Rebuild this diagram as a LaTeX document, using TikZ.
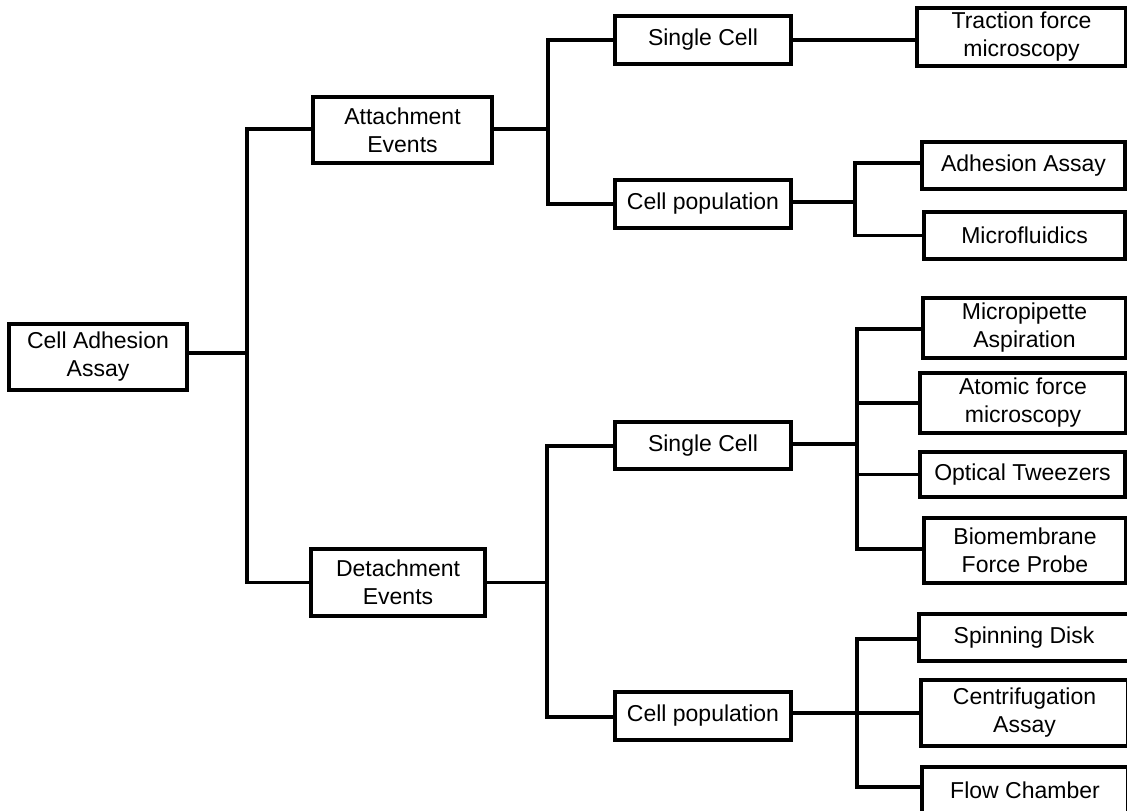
\documentclass[tikz,border=0pt]{standalone}
\usepackage{fontspec}
\setmainfont{Liberation Sans}
\begin{document}
\begin{tikzpicture}[x=1pt,y=-1pt,
  box/.style={draw=black, line width=3.2pt, align=center, inner sep=0pt, outer sep=0pt,
    font=\fontsize{23}{28}\selectfont},
  conn/.style={line width=3.4pt, line join=miter}]
\useasboundingbox (0,0) rectangle (1127,811);
% level 0
\node[box, minimum width=178, minimum height=66] (root) at (98,357) {Cell Adhesion\\Assay};
% level 1
\node[box, minimum width=179, minimum height=66] (att) at (402.5,130) {Attachment\\Events};
\node[box, minimum width=174, minimum height=67] (det) at (398,582.5) {Detachment\\Events};
% level 2
\node[box, minimum width=176, minimum height=48] (sc1) at (703,40) {Single Cell};
\node[box, minimum width=176, minimum height=48] (cp1) at (703,204) {Cell population};
\node[box, minimum width=176, minimum height=47] (sc2) at (703,445.5) {Single Cell};
\node[box, minimum width=176, minimum height=48] (cp2) at (703,716) {Cell population};
% level 3
\node[box, minimum width=209, minimum height=58] (tfm) at (1021.5,37) {Traction force\\microscopy};
\node[box, minimum width=203, minimum height=47] (ada) at (1023.5,165.5) {Adhesion Assay};
\node[box, minimum width=201, minimum height=47] (mf) at (1024.5,235.5) {Microfluidics};
\node[box, minimum width=203, minimum height=60] (mpa) at (1024.5,328) {Micropipette\\Aspiration};
\node[box, minimum width=206, minimum height=60] (afm) at (1023,403) {Atomic force\\microscopy};
\node[box, minimum width=205, minimum height=45] (ot) at (1022.5,474.5) {Optical Tweezers};
\node[box, minimum width=202, minimum height=65] (bfp) at (1025,550.5) {Biomembrane\\Force Probe};
\node[box, minimum width=210, minimum height=47] (sd) at (1024,637.5) {Spinning Disk};
\node[box, minimum width=207, minimum height=66] (cen) at (1024.5,713) {Centrifugation\\Assay};
\node[box, minimum width=206, minimum height=46] (fc) at (1025,790) {Flow Chamber};
% junction coordinates
\coordinate (j0) at (247,353);
\coordinate (j1) at (548,129);
\coordinate (j2) at (547,582.5);
\coordinate (j3) at (855,202);
\coordinate (j4) at (857,444);
\coordinate (j5) at (857,713);
% connectors level 0 -> 1
\draw[conn] (root.east |- j0) -- (j0);
\draw[conn] (att.west |- 0,129) -| (j0) |- (det.west);
% level 1 -> 2
\draw[conn] (att.east |- j1) -- (j1);
\draw[conn] (sc1.west) -| (j1) |- (cp1.west);
\draw[conn] (det.east |- j2) -- (j2);
\draw[conn] (sc2.west |- 0,446) -| (j2) |- (cp2.west |- 0,717);
% level 2 -> 3
\draw[conn] (sc1.east) -- (sc1.east -| tfm.west);
\draw[conn] (cp1.east |- j3) -- (j3);
\draw[conn] (ada.west |- 0,163) -| (j3) |- (mf.west);
\draw[conn] (sc2.east |- j4) -- (j4);
\draw[conn] (mpa.west |- 0,329) -| (j4) |- (bfp.west |- 0,549);
\draw[conn] (j4 |- afm.west) -- (afm.west);
\draw[conn] (j4 |- ot.west) -- (ot.west);
\draw[conn] (cp2.east |- j5) -- (j5);
\draw[conn] (sd.west |- 0,639) -| (j5) |- (fc.west |- 0,787);
\draw[conn] (j5 |- cen.west) -- (cen.west);
\end{tikzpicture}
\end{document}
